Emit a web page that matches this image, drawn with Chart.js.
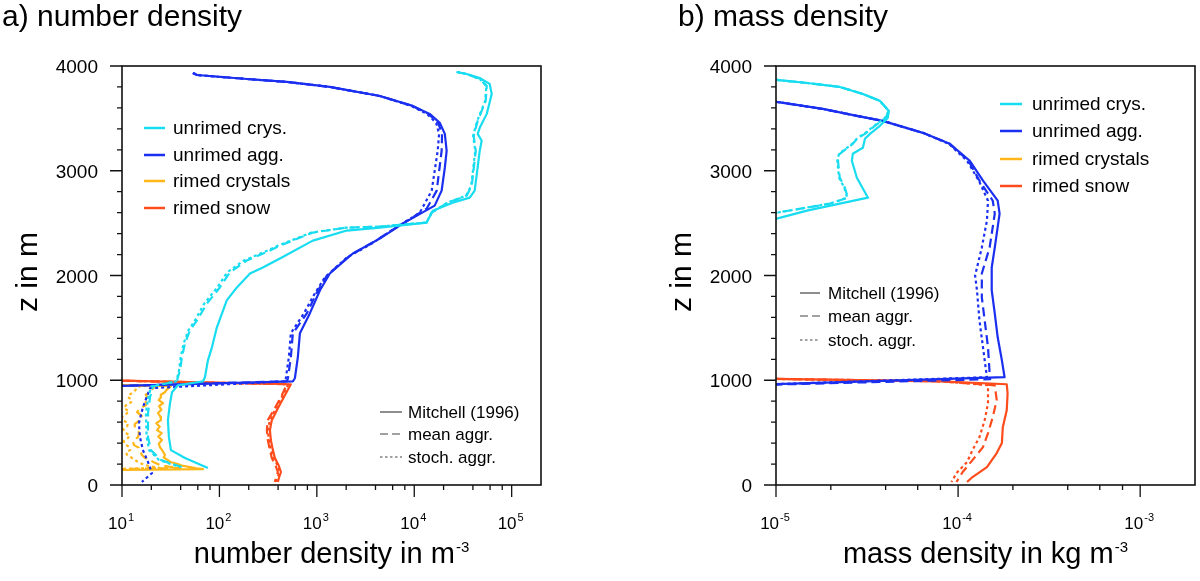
<!DOCTYPE html>
<html>
<head>
<meta charset="utf-8">
<script src="https://cdn.jsdelivr.net/npm/chart.js@4.4.0/dist/chart.umd.min.js"></script>
<style>
  html, body { margin: 0; padding: 0; background: #fff; }
  #wrap { position: relative; width: 1200px; height: 581px; overflow: hidden; }
  canvas { position: absolute; top: 0; }
  #numChart { left: 0; }
  #massChart { left: 600px; }
</style>
</head>
<body>
<div id="wrap">
  <canvas id="numChart" width="600" height="581"></canvas>
  <canvas id="massChart" width="600" height="581"></canvas>
</div>
<script>
// labels
const speciesNames = ['unrimed crys.', 'unrimed agg.', 'rimed crystals', 'rimed snow'];
const schemeNames = ['Mitchell (1996)', 'mean aggr.', 'stoch. aggr.'];
const zTicks = [0, 1000, 2000, 3000, 4000];
const numDecades = [1, 2, 3, 4, 5];
const massDecades = [-5, -4, -3];

// a) number density in m^-3, heights z in m (values < 10 run off the axis)
const nCrysMitZ = [3943, 3924, 3886, 3829, 3733, 3543, 3410, 3352, 3286, 3190, 2810, 2743, 2695, 2619, 2505, 2457, 2429, 2333, 2162, 2076, 2019, 1886, 1762, 1505, 1314, 1190, 1029, 990, 952, 886, 781, 619, 457, 333, 257, 162];
const nCrysMit = [27300, 34500, 47000, 59400, 62400, 55500, 47000, 44800, 49200, 47000, 41700, 37100, 24800, 15500, 13400, 4430, 2030, 910, 418, 279, 206, 151, 119, 94.2, 83.8, 76.2, 71.0, 67.8, 37.5, 32.6, 31.1, 29.6, 30.3, 31.8, 44.3, 76.2];
const nCrysMeanZ = [3943, 3924, 3876, 3810, 3667, 3476, 3333, 3190, 2857, 2762, 2695, 2600, 2505, 2467, 2457, 2410, 2286, 2238, 2143, 2029, 1886, 1733, 1571, 1476, 1352, 1219, 1095, 1029, 990, 943, 838, 686, 457, 333, 238, 171];
const nCrysMean = [27300, 34500, 47000, 55500, 54100, 44800, 40700, 42800, 38900, 34500, 22100, 15100, 13400, 4430, 2030, 910, 418, 330, 191, 128, 101, 74.5, 58.8, 49.8, 44.3, 41.2, 39.4, 37.5, 36.6, 20.8, 19.4, 18.5, 18.5, 19.8, 25.1, 41.2];
const nCrysStoch = [27300, 34500, 47000, 55000, 53500, 44300, 40200, 42300, 38400, 34000, 21800, 15000, 13300, 4400, 2000, 880, 400, 312, 178, 120, 95, 70, 56, 48, 43, 40, 38.5, 37, 36, 20, 18.6, 17.6, 17.9, 19.0, 24.0, 39.5];

const nAggMitZ = [3933, 3914, 3876, 3848, 3800, 3714, 3619, 3543, 3457, 3352, 3190, 3029, 2810, 2667, 2495, 2352, 2210, 2019, 1857, 1638, 1448, 1219, 1019, 990, 920];
const nAggMit = [53.5, 58.8, 191, 492, 1359, 4430, 9660, 14400, 18300, 20600, 21500, 20600, 19100, 16200, 7620, 4430, 2340, 1359, 1074, 847, 670, 638, 595, 567, 1];
const nAggMeanZ = [3933, 3914, 3876, 3848, 3800, 3714, 3619, 3543, 3457, 3352, 3190, 2810, 2638, 2467, 2333, 2190, 2000, 1838, 1638, 1448, 1219, 1019, 990, 920];
const nAggMean = [53.5, 58.8, 191, 492, 1359, 4430, 9500, 14000, 17600, 19300, 19100, 17000, 13400, 6780, 4030, 2180, 1268, 1000, 789, 567, 541, 505, 495, 1];
const nAggStochZ = [3933, 3914, 3876, 3848, 3800, 3714, 3619, 3543, 3457, 3352, 3190, 2810, 2600, 2438, 2305, 2171, 1981, 1829, 1638, 1448, 1219, 1019, 990, 924, 743, 590, 457, 333, 219, 114, 29];
const nAggStoch = [53.5, 58.8, 191, 492, 1359, 4430, 9300, 13500, 16800, 18000, 17400, 15100, 11400, 6010, 3660, 2030, 1208, 953, 736, 541, 516, 481, 470, 19.4, 16.4, 14.9, 15.3, 16.4, 18.5, 20.3, 16.0];

const nRimCrysMitZ = [975, 943, 914, 886, 862, 838, 810, 781, 752, 719, 686, 652, 619, 590, 557, 524, 495, 462, 429, 395, 362, 324, 286, 262, 238, 219, 200, 186, 171, 160, 152, 133];
const nRimCrysMit = [1, 31.8, 29.0, 27.6, 25.0, 25.1, 23.8, 26.4, 24.0, 25.3, 23.4, 24.8, 25.1, 22.5, 24.4, 22.9, 25.5, 23.6, 25.7, 23.9, 24.5, 26.2, 27.6, 26.8, 29.6, 31.5, 37.5, 41.0, 49.8, 58.0, 67.8, 1];
const nRimCrysMeanZ = [978, 943, 914, 886, 862, 838, 810, 786, 762, 729, 695, 657, 619, 581, 543, 500, 457, 419, 381, 357, 333, 310, 286, 262, 238, 214, 190, 176, 162, 135];
const nRimCrysMean = [1, 21.8, 20.5, 19.4, 17.5, 18.3, 16.4, 17.9, 17.6, 15.2, 14.3, 16.0, 15.3, 13.5, 13.6, 15.0, 14.6, 12.9, 13.3, 14.8, 14.9, 15.6, 16.0, 17.0, 19.4, 21.5, 24.5, 30.0, 39.4, 1];
const nRimCrysStochZ = [980, 943, 914, 886, 862, 838, 814, 790, 762, 733, 705, 676, 648, 619, 590, 562, 533, 505, 476, 448, 419, 390, 362, 333, 310, 286, 262, 238, 214, 190, 176, 162, 137];
const nRimCrysStoch = [1, 15.3, 14.0, 13.0, 12.0, 11.5, 12.6, 12.4, 11.0, 10.5, 11.8, 11.0, 10.0, 10.2, 11.6, 11.3, 10.3, 10.5, 12.0, 11.5, 10.4, 10.7, 11.9, 12.1, 11.0, 11.3, 12.5, 13.6, 15.0, 17.2, 20.0, 24.5, 1];

const nRimSnowZ = [1015, 962, 857, 733, 619, 524, 429, 333, 257, 181, 124, 67, 29];
const nRimSnowMit = [1, 541, 470, 398, 345, 330, 337, 354, 371, 408, 428, 408, 398];
const nRimSnowMean = [1, 492, 437, 371, 314, 307, 314, 330, 345, 379, 398, 379, 371];
const nRimSnowStoch = [1, 510, 448, 379, 330, 314, 322, 337, 362, 398, 418, 389, 379];

// b) mass density in kg m^-3 (values < 1e-5 run off the axis)
const mCrysMitZ = [3886, 3867, 3838, 3800, 3733, 3667, 3571, 3505, 3429, 3352, 3305, 3219, 3162, 3095, 2933, 2743, 2686, 2619, 2543, 2495];
const mCrysMit = [8e-6, 1.01e-5, 1.48e-5, 2.24e-5, 3.0e-5, 3.72e-5, 4.17e-5, 4.11e-5, 3.72e-5, 3.28e-5, 3.08e-5, 3.0e-5, 2.64e-5, 2.61e-5, 2.78e-5, 3.2e-5, 2.24e-5, 1.48e-5, 1.01e-5, 8e-6];
const mCrysMeanZ = [3886, 3867, 3838, 3800, 3733, 3667, 3571, 3505, 3429, 3352, 3314, 3257, 3162, 3095, 2933, 2838, 2743, 2686, 2648, 2600, 2571];
const mCrysMean = [8e-6, 1.01e-5, 1.48e-5, 2.24e-5, 3.0e-5, 3.72e-5, 4.17e-5, 4.0e-5, 3.49e-5, 3.08e-5, 2.82e-5, 2.64e-5, 2.24e-5, 2.19e-5, 2.24e-5, 2.39e-5, 2.48e-5, 1.98e-5, 1.48e-5, 1.01e-5, 8e-6];
const mCrysStoch = [8e-6, 1.01e-5, 1.48e-5, 2.24e-5, 3.0e-5, 3.72e-5, 4.15e-5, 3.97e-5, 3.46e-5, 3.05e-5, 2.80e-5, 2.62e-5, 2.22e-5, 2.17e-5, 2.22e-5, 2.37e-5, 2.46e-5, 1.97e-5, 1.47e-5, 1.01e-5, 8e-6];

const mAggMitZ = [3700, 3657, 3590, 3524, 3476, 3362, 3257, 3095, 2905, 2714, 2590, 2267, 2076, 1857, 1638, 1410, 1190, 1029, 946];
const mAggMit = [8e-6, 1.01e-5, 1.81e-5, 2.78e-5, 3.86e-5, 6.4e-5, 9.0e-5, 1.16e-4, 1.37e-4, 1.65e-4, 1.69e-4, 1.59e-4, 1.53e-4, 1.53e-4, 1.59e-4, 1.65e-4, 1.74e-4, 1.80e-4, 5e-6];
const mAggMeanZ = [3700, 3657, 3590, 3524, 3476, 3362, 3257, 3095, 2905, 2714, 2590, 2267, 2019, 1790, 1571, 1314, 1067, 1010, 946];
const mAggMean = [8e-6, 1.01e-5, 1.81e-5, 2.78e-5, 3.86e-5, 6.4e-5, 9.0e-5, 1.14e-4, 1.31e-4, 1.55e-4, 1.59e-4, 1.49e-4, 1.35e-4, 1.35e-4, 1.40e-4, 1.46e-4, 1.49e-4, 1.50e-4, 5e-6];
const mAggStochZ = [3700, 3657, 3590, 3524, 3476, 3362, 3257, 3095, 2905, 2714, 2524, 2267, 2000, 1857, 1571, 1314, 1029, 946];
const mAggStoch = [8e-6, 1.01e-5, 1.81e-5, 2.78e-5, 3.86e-5, 6.4e-5, 8.9e-5, 1.12e-4, 1.30e-4, 1.46e-4, 1.44e-4, 1.35e-4, 1.24e-4, 1.27e-4, 1.31e-4, 1.37e-4, 1.44e-4, 5e-6];

const mSnowMitZ = [1020, 990, 962, 876, 714, 552, 400, 305, 171, 76, 29];
const mSnowMit = [5e-6, 8.0e-5, 1.85e-4, 1.87e-4, 1.85e-4, 1.76e-4, 1.74e-4, 1.63e-4, 1.44e-4, 1.20e-4, 1.12e-4];
const mSnowMeanZ = [1020, 990, 952, 810, 648, 495, 362, 238, 124, 29];
const mSnowMean = [5e-6, 8.0e-5, 1.59e-4, 1.63e-4, 1.55e-4, 1.46e-4, 1.37e-4, 1.20e-4, 1.06e-4, 9.8e-5];
const mSnowStochZ = [1020, 990, 952, 781, 619, 457, 333, 219, 114, 29];
const mSnowStoch = [5e-6, 8.0e-5, 1.46e-4, 1.46e-4, 1.40e-4, 1.31e-4, 1.20e-4, 1.12e-4, 9.8e-5, 9.2e-5];

// styles
const COLORS = ['#18dcf0', '#1a2ff0', '#ffb618', '#ff4c1c'];
const DASHES = [[], [9, 5], [3, 3]];
const FONT = '"Liberation Sans", Arial, Helvetica, sans-serif';

function curve(z, vals, species, scheme) {
    return {
        data: z.map((h, i) => ({ x: vals[i], y: h })),
        showLine: true,
        borderColor: COLORS[species],
        borderWidth: 2.2,
        borderDash: DASHES[scheme],
        borderJoinStyle: 'round',
        pointRadius: 0,
        pointHoverRadius: 0,
        fill: false,
        tension: 0
    };
}

// text with a raised exponent, e.g. 10^-5 or m^-3
function supText(ctx, base, sup, x, y, size, supSize, rise, align) {
    ctx.font = size + 'px ' + FONT;
    const wb = ctx.measureText(base).width;
    ctx.font = supSize + 'px ' + FONT;
    const ws = ctx.measureText(sup).width;
    const x0 = align === 'center' ? x - (wb + ws + 1) / 2 : x;
    ctx.textAlign = 'left';
    ctx.textBaseline = 'alphabetic';
    ctx.font = size + 'px ' + FONT;
    ctx.fillText(base, x0, y);
    ctx.font = supSize + 'px ' + FONT;
    ctx.fillText(sup, x0 + wb + 1, y - rise);
}

// frame, ticks, labels, titles and both legends
function decoPlugin(cfg) {
    return {
        id: 'deco',
        afterDraw(chart) {
            const ctx = chart.ctx, a = chart.chartArea;
            const xs = chart.scales.x, ys = chart.scales.y;
            ctx.save();
            ctx.fillStyle = '#000';
            ctx.strokeStyle = '#111';
            ctx.lineWidth = 1.6;
            ctx.setLineDash([]);
            ctx.strokeRect(a.left, a.top, a.right - a.left, a.bottom - a.top);

            ctx.lineWidth = 1.3;
            ctx.beginPath();
            for (let v = 0; v <= 4000; v += 200) {
                const py = ys.getPixelForValue(v);
                const len = v % 1000 === 0 ? 12 : 5;
                ctx.moveTo(a.left - len, py);
                ctx.lineTo(a.left, py);
            }
            cfg.decades.forEach(k => {
                [1, 2, 4, 6, 8].forEach(m => {
                    const val = m * Math.pow(10, k);
                    if (val > xs.max * 0.999) return;
                    const px = xs.getPixelForValue(val);
                    ctx.moveTo(px, a.bottom);
                    ctx.lineTo(px, a.bottom + (m === 1 ? 12 : 5));
                });
            });
            ctx.stroke();

            // y tick labels
            ctx.font = '19px ' + FONT;
            ctx.textAlign = 'right';
            ctx.textBaseline = 'alphabetic';
            zTicks.forEach(v => ctx.fillText(String(v), a.left - 24, ys.getPixelForValue(v) + 7));

            // x tick labels
            cfg.decades.forEach(k => {
                supText(ctx, '10', String(k), xs.getPixelForValue(Math.pow(10, k)) - 1, 529, 17, 11, 8, 'center');
            });

            // titles
            ctx.font = '30px ' + FONT;
            ctx.textAlign = 'left';
            ctx.fillText(cfg.title, cfg.titleX, 26);
            supText(ctx, cfg.xTitle, '-3', (a.left + a.right) / 2, 563, 29, 15, 11, 'center');
            ctx.save();
            ctx.translate(cfg.yTitleX, 272);
            ctx.rotate(-Math.PI / 2);
            ctx.font = '30px ' + FONT;
            ctx.textAlign = 'center';
            ctx.fillText('z in m', 0, 0);
            ctx.restore();

            // species legend
            const sl = cfg.speciesLegend;
            speciesNames.forEach((name, i) => {
                const y = sl.rows[i];
                ctx.strokeStyle = COLORS[i];
                ctx.lineWidth = 2.5;
                ctx.setLineDash([]);
                ctx.beginPath();
                ctx.moveTo(sl.x0, y);
                ctx.lineTo(sl.x1, y);
                ctx.stroke();
                ctx.font = '19px ' + FONT;
                ctx.textAlign = 'left';
                ctx.textBaseline = 'middle';
                ctx.fillText(name, sl.tx, y + 1);
            });

            // scheme legend
            const ll = cfg.schemeLegend;
            schemeNames.forEach((name, i) => {
                const y = ll.rows[i];
                ctx.strokeStyle = '#444';
                ctx.lineWidth = 1.2;
                ctx.setLineDash(i === 1 ? [8, 4] : i === 2 ? [2.5, 2.5] : []);
                ctx.beginPath();
                ctx.moveTo(ll.x0, y);
                ctx.lineTo(ll.x1, y);
                ctx.stroke();
                ctx.setLineDash([]);
                ctx.font = '17px ' + FONT;
                ctx.textAlign = 'left';
                ctx.textBaseline = 'middle';
                ctx.fillText(name, ll.tx, y + 1);
            });
            ctx.restore();
        }
    };
}

function panelOptions(xMin, xMax, pad) {
    return {
        responsive: false,
        animation: false,
        events: [],
        layout: { padding: pad },
        plugins: { legend: { display: false }, tooltip: { enabled: false } },
        scales: {
            x: { type: 'logarithmic', min: xMin, max: xMax, display: false },
            y: { type: 'linear', min: 0, max: 4000, display: false }
        }
    };
}

new Chart(document.getElementById('numChart'), {
    type: 'scatter',
    data: {
        datasets: [
            curve(nCrysMitZ, nCrysMit, 0, 0),
            curve(nCrysMeanZ, nCrysMean, 0, 1),
            curve(nCrysMeanZ, nCrysStoch, 0, 2),
            curve(nAggMitZ, nAggMit, 1, 0),
            curve(nAggMeanZ, nAggMean, 1, 1),
            curve(nAggStochZ, nAggStoch, 1, 2),
            curve(nRimCrysMitZ, nRimCrysMit, 2, 0),
            curve(nRimCrysMeanZ, nRimCrysMean, 2, 1),
            curve(nRimCrysStochZ, nRimCrysStoch, 2, 2),
            curve(nRimSnowZ, nRimSnowMit, 3, 0),
            curve(nRimSnowZ, nRimSnowMean, 3, 1),
            curve(nRimSnowZ, nRimSnowStoch, 3, 2)
        ]
    },
    options: panelOptions(10, 2e5, { left: 122, right: 59, top: 66, bottom: 96 }),
    plugins: [decoPlugin({
        title: 'a) number density', titleX: 2,
        xTitle: 'number density in m', yTitleX: 37,
        decades: numDecades,
        speciesLegend: { x0: 144, x1: 165, tx: 173, rows: [128, 155, 181, 208] },
        schemeLegend: { x0: 380, x1: 402, tx: 408, rows: [412, 434, 457] }
    })]
});

new Chart(document.getElementById('massChart'), {
    type: 'scatter',
    data: {
        datasets: [
            curve(mCrysMitZ, mCrysMit, 0, 0),
            curve(mCrysMeanZ, mCrysMean, 0, 1),
            curve(mCrysMeanZ, mCrysStoch, 0, 2),
            curve(mAggMitZ, mAggMit, 1, 0),
            curve(mAggMeanZ, mAggMean, 1, 1),
            curve(mAggStochZ, mAggStoch, 1, 2),
            curve(mSnowMitZ, mSnowMit, 3, 0),
            curve(mSnowMeanZ, mSnowMean, 3, 1),
            curve(mSnowStochZ, mSnowStoch, 3, 2)
        ]
    },
    options: panelOptions(1e-5, 2e-3, { left: 176, right: 5, top: 66, bottom: 96 }),
    plugins: [decoPlugin({
        title: 'b) mass density', titleX: 78,
        xTitle: 'mass density in kg m', yTitleX: 91,
        decades: massDecades,
        speciesLegend: { x0: 400, x1: 422, tx: 432, rows: [104, 131, 159, 186] },
        schemeLegend: { x0: 200, x1: 220, tx: 228, rows: [293, 316, 340] }
    })]
});
</script>
</body>
</html>
